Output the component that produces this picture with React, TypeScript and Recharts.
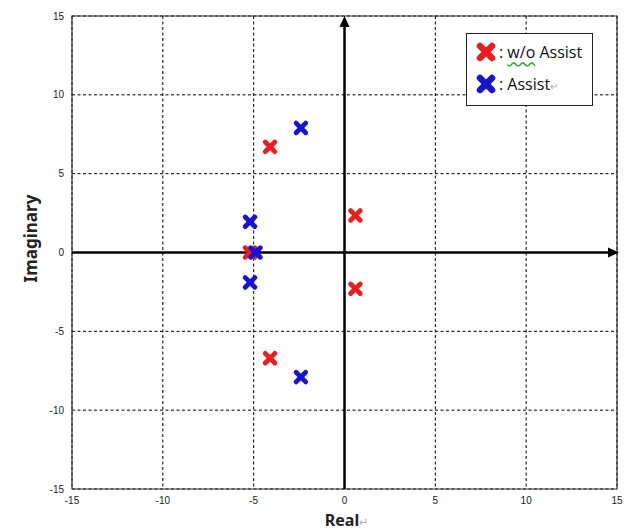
import { ScatterChart, Scatter, XAxis, YAxis, CartesianGrid, ReferenceLine, ReferenceArea } from 'recharts'

// poles without assist
const redRe = [-4.1, -4.1, 0.6, 0.6, -5.2]
const redIm = [6.7, -6.7, 2.35, -2.3, 0]
// poles with assist
const blueRe = [-2.4, -2.4, -5.2, -5.2, -4.9]
const blueIm = [7.9, -7.9, 1.95, -1.9, 0]

const ticks = [-15, -10, -5, 0, 5, 10, 15]

const RED = '#ee1c1c'
const BLUE = '#1414d2'

const toPoints = (re: number[], im: number[]) => re.map((r, i) => ({ re: r, im: im[i] }))

const cross = (color: string, s: number, w: number) => (props: any) => {
  const { cx, cy } = props
  return (
    <g>
      <line x1={cx - s} y1={cy - s} x2={cx + s} y2={cy + s} stroke={color} strokeWidth={w} strokeLinecap="round" />
      <line x1={cx - s} y1={cy + s} x2={cx + s} y2={cy - s} stroke={color} strokeWidth={w} strokeLinecap="round" />
    </g>
  )
}

const arrowLine = (dir: 'up' | 'right') => (props: any) => {
  const { x1, y1, x2, y2 } = props
  if (dir === 'up') {
    const x = x1
    const top = Math.min(y1, y2)
    const bot = Math.max(y1, y2)
    return (
      <g>
        <line x1={x} y1={bot} x2={x} y2={top + 8} stroke="#000" strokeWidth={2.5} />
        <polygon points={`${x},${top} ${x - 5},${top + 11} ${x + 5},${top + 11}`} fill="#000" />
      </g>
    )
  }
  const y = y1
  const left = Math.min(x1, x2)
  const right = Math.max(x1, x2) + 2
  return (
    <g>
      <line x1={left} y1={y} x2={right - 8} y2={y} stroke="#000" strokeWidth={2.5} />
      <polygon points={`${right},${y} ${right - 11},${y - 5} ${right - 11},${y + 5}`} fill="#000" />
    </g>
  )
}

const tickStyle = { fontSize: 10, fill: '#222', fontFamily: 'Liberation Sans, Arial, sans-serif' }

export default function App() {
  return (
    <div style={{ position: 'absolute', left: 0, top: 0, width: 639, height: 532, background: '#fff' }}>
      <ScatterChart width={639} height={532} margin={{ top: 16, right: 22, left: 52, bottom: 13 }}>
        <CartesianGrid stroke="#000" strokeDasharray="3 2.5" strokeWidth={1} />
        <XAxis
          type="number"
          dataKey="re"
          domain={[-15, 15]}
          ticks={ticks}
          axisLine={false}
          tickLine={false}
          tick={tickStyle}
          tickMargin={2}
          height={30}
          label={{
            content: (p: any) => {
              const vb = p.viewBox
              return (
                <text x={vb.x + vb.width / 2 + 2} y={526} textAnchor="middle" fontSize={16} fontWeight="bold" fill="#222" fontFamily="Noto Sans, sans-serif">
                  Real<tspan fontSize={11} fontWeight="normal" fill="#aaa">↵</tspan>
                </text>
              )
            },
          }}
        />
        <YAxis
          type="number"
          dataKey="im"
          domain={[-15, 15]}
          ticks={ticks}
          axisLine={false}
          tickLine={false}
          tick={tickStyle}
          tickMargin={2}
          width={20}
          label={{
            content: (p: any) => {
              const vb = p.viewBox
              const cx = 30
              const cy = vb.y + vb.height / 2 - 14
              return (
                <text x={cx} y={cy} transform={`rotate(-90 ${cx} ${cy})`} textAnchor="middle" dominantBaseline="central" fontSize={17} fontWeight="bold" fill="#222" fontFamily="Noto Sans, sans-serif">
                  Imaginary
                </text>
              )
            },
          }}
        />
        <ReferenceArea x1={-15} x2={15} y1={-15} y2={15} fill="none" stroke="#333" strokeWidth={1.2} />
        <ReferenceLine x={0} shape={arrowLine('up')} />
        <ReferenceLine y={0} shape={arrowLine('right')} />
        <Scatter name="w/o Assist" data={toPoints(redRe, redIm)} fill={RED} shape={cross(RED, 4.8, 4.8)} isAnimationActive={false} />
        <Scatter name="Assist" data={toPoints(blueRe, blueIm)} fill={BLUE} shape={cross(BLUE, 4.8, 4.8)} isAnimationActive={false} />
      </ScatterChart>
      <div
        style={{
          position: 'absolute',
          left: 466,
          top: 33,
          width: 125,
          height: 71,
          border: '1px solid #222',
          background: '#fff',
          fontFamily: '"Open Sans", "Noto Sans", sans-serif',
          fontSize: 16,
          color: '#111',
          boxSizing: 'content-box',
        }}
      >
        <div style={{ display: 'flex', alignItems: 'center', height: 24, marginTop: 6, marginLeft: 8 }}>
          <svg width={22} height={22}>
            {cross(RED, 6, 6.5)({ cx: 11, cy: 11 })}
          </svg>
          <span style={{ marginLeft: 2, whiteSpace: 'nowrap' }}>
            : <span style={{ textDecoration: 'underline wavy #3a3', textUnderlineOffset: 3 }}>w/o</span> Assist
          </span>
        </div>
        <div style={{ display: 'flex', alignItems: 'center', height: 24, marginTop: 8, marginLeft: 8 }}>
          <svg width={22} height={22}>
            {cross(BLUE, 6, 6.5)({ cx: 11, cy: 11 })}
          </svg>
          <span style={{ marginLeft: 2, whiteSpace: 'nowrap' }}>
            : Assist<span style={{ fontSize: 10, color: '#aaa' }}>↵</span>
          </span>
        </div>
      </div>
    </div>
  )
}
